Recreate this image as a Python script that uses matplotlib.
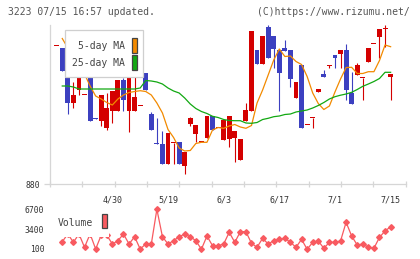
import numpy as np
import matplotlib
matplotlib.use("Agg")
import matplotlib.pyplot as plt
from matplotlib.patches import Rectangle

# daily candles, index 0 = oldest shown day, index 60 = 7/15
opens = [1018, 1016, 994, 961, 974, 969, 990, 946, 943, 936,
         953, 953, 984, 953, 953, 958, 991, 950, 921, 920,
         900, 921, 922, 898, 940, 930, 922, 926, 948, 936,
         924, 925, 926, 904, 943, 953, 1014, 1000, 1037, 1028,
         1014, 1016, 1014, 966, 999, 939, 946, 972, 990, 998,
         1009, 1010, 1014, 971, 989, 986, 1002, 1020, 1027, 1035,
         987]
highs = [1018, 1016, 994, 982, 1001, 969, 990, 946, 969, 971,
         973, 984, 986, 986, 988, 958, 991, 952, 946, 933,
         931, 921, 922, 912, 947, 939, 922, 948, 948, 936,
         944, 948, 933, 925, 961, 1033, 1014, 1028, 1039, 1028,
         1014, 1024, 1014, 982, 999, 939, 946, 975, 994, 999,
         1009, 1014, 1020, 992, 1001, 986, 1016, 1020, 1035, 1039,
         990]
lows = [1018, 993, 950, 956, 969, 969, 943, 945, 938, 934,
        941, 953, 953, 932, 953, 958, 974, 934, 920, 900,
        900, 900, 900, 890, 938, 922, 922, 926, 934, 936,
        924, 917, 902, 904, 943, 953, 1000, 1000, 1006, 996,
        953, 1013, 977, 966, 936, 939, 936, 972, 987, 996,
        996, 996, 964, 960, 989, 964, 1002, 1020, 1006, 1017,
        964]
closes = [1018, 993, 961, 969, 1001, 969, 943, 945, 969, 956,
          973, 984, 964, 986, 967, 958, 974, 934, 920, 900,
          931, 921, 900, 912, 946, 939, 922, 948, 934, 936,
          944, 948, 933, 925, 954, 1033, 1000, 1028, 1006, 1015,
          991, 1013, 985, 982, 936, 939, 946, 975, 987, 999,
          1006, 1014, 974, 960, 999, 986, 1016, 1020, 1035, 1035,
          990]

# moving averages
ma5 = [np.nan, 1025.5, 1016, 1006, 996, 990, 978, 968, 965, 961.5,
       959, 965, 969, 971.5, 972.5, 973.3, 972.5, 969, 961, 951,
       934.5, 926.5, 916, 913, 913.5, 920.5, 921.7, 921.7, 934, 936.5,
       935.7, 938, 939.5, 937, 935.7, 938.5, 961, 974, 989, 1004,
       1015, 1007.5, 1008, 1002.5, 999.5, 987.5, 971, 960.5, 954.5, 958,
       972, 985, 996.5, 996.7, 990.5, 990.5, 992.3, 992.3, 1003.5, 1019,
       1017.3]
ma25 = [np.nan, 978, 978, 977, 975, 975, 975, 975, 975, 975,
        975, 975, 975, 975, 975, 976, 983.5, 983, 982, 980,
        976, 973, 971, 966, 960, 955.5, 952.5, 950.5, 947.7, 946.5,
        944.5, 943.5, 943.3, 943.3, 941, 940.7, 941.5, 944.5, 945.7, 947.3,
        948, 949.5, 950, 952, 953, 954, 956, 958.5, 961.5, 965,
        967.3, 968.8, 970, 971.7, 974.5, 977.7, 980, 982.5, 985.5, 991.7,
        991.7]

volume = [np.nan, 1310, 2600, 1210, 2600, 380, 2600, 100, 2400, 2400,
          930, 1480, 2590, 930, 2140, 100, 930, 930, 6700, 2140,
          930, 1480, 2140, 2590, 2140, 1480, 60, 2260, 650, 650,
          930, 2880, 1210, 2980, 2980, 1050, 380, 1880, 930, 1480,
          1710, 1880, 1210, 380, 1710, 50, 1210, 1430, 220, 1210,
          1210, 1430, 4540, 2260, 760, 930, 380, 220, 2040, 3090,
          3800]

date_pos = [10, 20, 30, 40, 50, 60]
date_labels = ['4/30', '5/19', '6/3', '6/17', '7/1', '7/15']
vol_ticks = [100, 3400, 6700]

W, H = 420, 259
RED = '#d40000'
BLUE = '#3c40c0'
ORANGE = '#f28a00'
GREEN = '#12a812'
VOLC = '#f85a60'
GRID = '#d6d6d6'
MONO = 'DejaVu Sans Mono'

o = np.array(opens, float)
c = np.array(closes, float)
x = np.arange(len(o))
up = c >= o
colors = np.where(up, RED, BLUE)
body_lo = np.minimum(o, c)
body_h = np.maximum(np.abs(c - o), 0.9)

fig = plt.figure(figsize=(W / 100, H / 100), dpi=100)


def fbox(x0, y0, x1, y1):
    # pixel box (top-left origin) -> figure fraction rect
    return [x0 / W, 1 - y1 / H, (x1 - x0) / W, (y1 - y0) / H]


xlim = (-1.204, 62.71)

ax = fig.add_axes(fbox(50, 25, 405.7, 184))
ax.vlines(x, lows, highs, colors=colors, lw=0.8, zorder=1)
ax.bar(x, body_h, bottom=body_lo, width=0.88, color=colors, zorder=2)
ax.plot(x, ma5, color=ORANGE, lw=0.9, zorder=3)
ax.plot(x, ma25, color=GREEN, lw=0.9, zorder=3)
ax.set_xlim(*xlim)
ax.set_ylim(880, 1039)

for s in ['top', 'right']:
    ax.spines[s].set_visible(False)
for s in ['left', 'bottom']:
    ax.spines[s].set_color(GRID)
    ax.spines[s].set_linewidth(0.9)

ax.set_yticks([880])
ax.set_yticklabels(['880'], family=MONO, fontsize=5.8, color='#333')
ax.tick_params(axis='y', length=4, width=0.9, color=GRID, pad=3.2)
ax.set_xticks(date_pos)
ax.set_xticklabels(date_labels, family=MONO, fontsize=6, color='#333')
ax.set_xticks(np.linspace(xlim[0], xlim[1], 12), minor=True)
ax.tick_params(axis='x', which='major', length=0, pad=8.5)
ax.tick_params(axis='x', which='minor', length=4.5, width=0.9,
               color=GRID, direction='inout')

# price legend
fig.add_artist(Rectangle(fbox(65, 30, 143.3, 76.7)[:2], 78.3 / W, 46.7 / H,
                         transform=fig.transFigure, facecolor='white',
                         edgecolor='#cfcfcf', lw=0.9, zorder=5))
for label, col, ty, sy0, sy1 in [('5-day MA', ORANGE, 46, 37.5, 53),
                                 ('25-day MA', GREEN, 63.3, 54.5, 69.5)]:
    fig.text(124.5 / W, 1 - ty / H, label, ha='right', va='center',
             family=MONO, fontsize=7, color='#444', zorder=6)
    b = fbox(131.7, sy0, 137.3, sy1)
    fig.add_artist(Rectangle(b[:2], b[2], b[3], transform=fig.transFigure,
                             facecolor=col, edgecolor='#444', lw=0.9, zorder=6))

# volume panel
ax2 = fig.add_axes(fbox(50, 205, 405.7, 253))
ax2.plot(x, volume, color=VOLC, lw=0.9, marker='D', ms=2.9, mec=VOLC,
         mfc=VOLC, clip_on=False)
ax2.set_xlim(*xlim)
ax2.set_ylim(-565, 7413)
for s in ax2.spines.values():
    s.set_visible(False)
ax2.set_xticks([])
ax2.set_yticks(vol_ticks)
ax2.set_yticklabels([str(v) for v in vol_ticks], family=MONO, fontsize=5.8,
                    color='#333')
ax2.tick_params(axis='y', length=0, pad=4)

b = fbox(55, 210, 109, 237.3)
fig.add_artist(Rectangle(b[:2], b[2], b[3], transform=fig.transFigure,
                         facecolor='white', edgecolor='none', zorder=5))
fig.text(58 / W, 1 - 222.5 / H, 'Volume', ha='left', va='center',
         family=MONO, fontsize=7, color='#444', zorder=6)
b = fbox(101.7, 213.5, 107.3, 228.3)
fig.add_artist(Rectangle(b[:2], b[2], b[3], transform=fig.transFigure,
                         facecolor=VOLC, edgecolor='#444', lw=0.9, zorder=6))

# header
fig.text(8.3 / W, 1 - 12.3 / H, '3223 07/15 16:57 updated.', ha='left',
         va='center', family=MONO, fontsize=7, color='#555')
fig.text(409.5 / W, 1 - 12.3 / H, '(C)https://www.rizumu.net/', ha='right',
         va='center', family=MONO, fontsize=7, color='#555')

fig.savefig('out.png', dpi=100)
